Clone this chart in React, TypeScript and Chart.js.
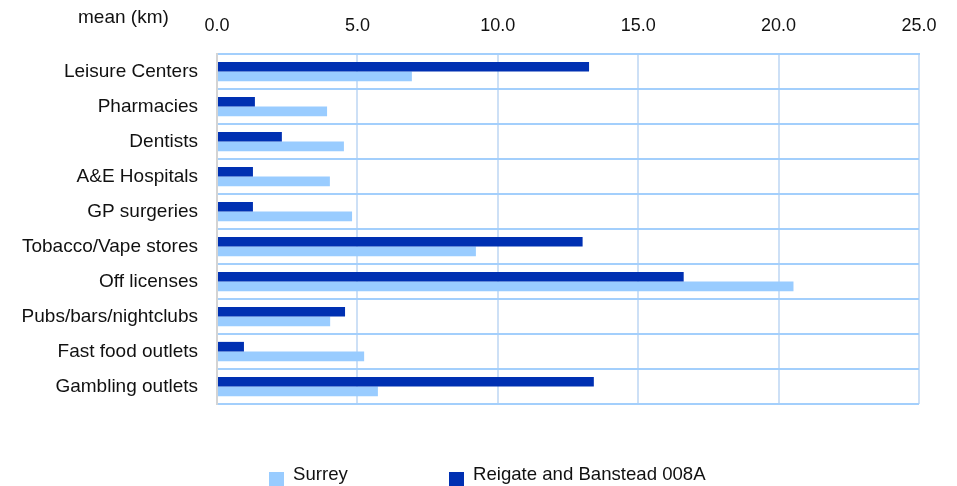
import React, { useEffect, useRef } from "react";
import { Chart, registerables } from "chart.js";

Chart.register(...registerables);

const categories = [
  "Leisure Centers",
  "Pharmacies",
  "Dentists",
  "A&E Hospitals",
  "GP surgeries",
  "Tobacco/Vape stores",
  "Off licenses",
  "Pubs/bars/nightclubs",
  "Fast food outlets",
  "Gambling outlets",
];

const reigateLabel = "Reigate and Banstead 008A";
const reigateValues = [13.25, 1.35, 2.31, 1.28, 1.28, 13.02, 16.62, 4.56, 0.96, 13.42];

const surreyLabel = "Surrey";
const surreyValues = [6.94, 3.92, 4.52, 4.02, 4.81, 9.22, 20.53, 4.03, 5.24, 5.73];

const axisTitle = "mean (km)";
const xMin = 0;
const xMax = 25;
const xStep = 5;

const FONT = "'Liberation Sans', Arial, sans-serif";
const DARK = "#0030b2";
const LIGHT = "#99ccff";

const titleAndLegendPlugin = {
  id: "titleAndLegend",
  afterDraw(chart: any) {
    const ctx = chart.ctx;
    ctx.save();
    ctx.fillStyle = "#111";
    ctx.font = `19px ${FONT}`;
    ctx.textAlign = "left";
    ctx.textBaseline = "middle";
    ctx.fillText(axisTitle, 78, 18);

    // legend: Surrey first, then Reigate
    const order = [1, 0];
    const startX = 269;
    const itemGap = 180;
    const boxSize = 15;
    const boxTop = 472;
    ctx.font = `18.6px ${FONT}`;
    order.forEach((dsIndex, i) => {
      const ds = chart.data.datasets[dsIndex];
      const x = startX + i * itemGap;
      ctx.fillStyle = ds.backgroundColor;
      ctx.fillRect(x, boxTop, boxSize, boxSize);
      ctx.fillStyle = "#111";
      ctx.fillText(ds.label, x + 24, 475);
    });
    ctx.restore();
  },
};

export default function App() {
  const canvasRef = useRef<HTMLCanvasElement | null>(null);

  useEffect(() => {
    document.body.style.margin = "0";
    const canvas = canvasRef.current;
    if (!canvas) return;
    const chart = new Chart(canvas, {
      type: "bar",
      data: {
        labels: categories,
        datasets: [
          {
            label: reigateLabel,
            data: reigateValues,
            backgroundColor: DARK,
            borderWidth: 0,
            categoryPercentage: 0.55,
            barPercentage: 1.0,
          },
          {
            label: surreyLabel,
            data: surreyValues,
            backgroundColor: LIGHT,
            borderWidth: 0,
            categoryPercentage: 0.55,
            barPercentage: 1.0,
          },
        ],
      },
      options: {
        indexAxis: "y",
        animation: false,
        responsive: false,
        devicePixelRatio: 1,
        layout: { padding: { left: 0, right: 38, top: 0, bottom: 82 } },
        plugins: {
          legend: { display: false },
          tooltip: { enabled: false },
        },
        scales: {
          x: {
            position: "top",
            min: xMin,
            max: xMax,
            grid: {
              color: "#cde0f6",
              lineWidth: 2,
              drawTicks: false,
            },
            border: { display: true, color: "#a3cffc", width: 2 },
            ticks: {
              stepSize: xStep,
              padding: 17,
              color: "#111",
              font: { family: FONT, size: 18 },
              callback: (v: any) => Number(v).toFixed(1),
            },
            afterFit: (scale: any) => {
              scale.height = 54;
            },
          },
          y: {
            grid: {
              color: "#a3cffc",
              lineWidth: 2,
              drawTicks: false,
              offset: true,
            },
            border: { display: true, color: "#d4d4d4", width: 2 },
            ticks: {
              padding: 19,
              color: "#111",
              font: { family: FONT, size: 19 },
            },
            afterFit: (scale: any) => {
              scale.width = 217;
            },
          },
        },
      },
      plugins: [titleAndLegendPlugin],
    } as any);
    return () => chart.destroy();
  }, []);

  return (
    <div style={{ position: "relative", width: 957, height: 486, overflow: "hidden" }}>
      <canvas ref={canvasRef} width={957} height={486} style={{ display: "block" }} />
    </div>
  );
}
